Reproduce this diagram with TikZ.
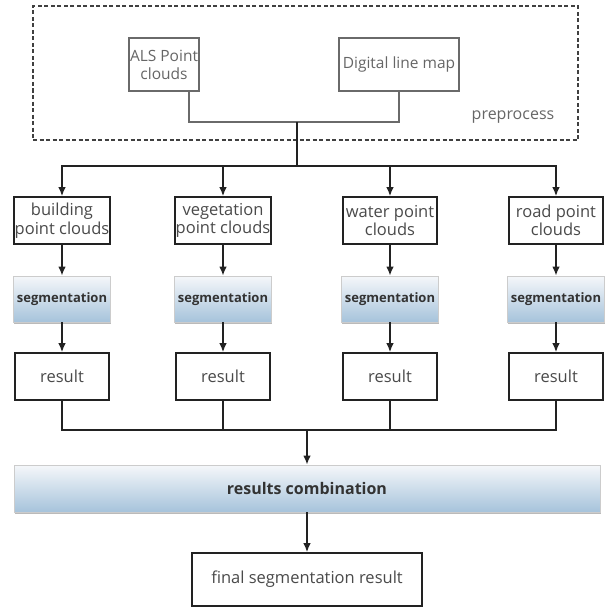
\documentclass[tikz,border=0pt]{standalone}
\usepackage{fontspec}
\setmainfont{Open Sans}
\usetikzlibrary{arrows.meta,shadows}

\definecolor{boxline}{HTML}{222222}
\definecolor{greyline}{HTML}{6A6A6A}
\definecolor{textgrey}{HTML}{4A4A4A}
\definecolor{segtop}{HTML}{F5F7FA}
\definecolor{segbottom}{HTML}{A6C3DB}

\tikzset{
  stepnode/.style = {shape=rectangle, draw=boxline, line width=1.6pt,
                     align=center, fill=white, text=textgrey,
                     inner sep=1pt, font=\fontsize{16.5}{18.5}\selectfont},
  input/.style    = {stepnode, draw=greyline, line width=1.4pt,
                     text=black!60, font=\fontsize{15.5}{18}\selectfont},
  data/.style     = {stepnode, minimum width=94pt, minimum height=47pt},
  result/.style   = {data},
  process/.style  = {shape=rectangle, draw=black!20, line width=0.8pt,
                     top color=segtop, bottom color=segbottom,
                     text=black!80, align=center,
                     font=\bfseries\fontsize{13}{15}\selectfont,
                     drop shadow={shadow xshift=0.8pt, shadow yshift=-1.6pt,
                                  fill=black!45, opacity=0.6}},
  segbox/.style   = {process, minimum width=92pt, minimum height=46pt},
  group/.style    = {shape=rectangle, draw=black!75, dashed,
                     line width=1.3pt, dash pattern=on 4pt off 2.5pt},
  line/.style     = {draw=boxline, line width=1.5pt},
  arrow/.style    = {line, -{Latex[length=9pt,width=7.5pt]}},
  greylink/.style = {draw=greyline, line width=1.3pt}
}

\begin{document}
\begin{tikzpicture}[x=1pt, y=-1pt]
\useasboundingbox (0,0) rectangle (606,608);

% preprocess group
\node[group, minimum width=545pt, minimum height=134pt] (pre) at (305.5,73) {};
\node[text=black!60, font=\fontsize{16}{18}\selectfont] (prelabel) at (513,117) {preprocess};
\node[input, minimum width=70pt, minimum height=53pt] (als) at (164,64.5) {ALS Point\\clouds};
\node[input, minimum width=120pt, minimum height=53pt] (dlm) at (399,64.5) {Digital line map};
\coordinate (merge) at (297,122);
\coordinate (split) at (297,166);
\draw[greylink] ([xshift=25pt]als.south) |- (merge) -| (dlm.south);
\draw[line] (merge) -- (split);

% point clouds
\node[data] (building) at (62,220.5)    {building\\point clouds};
\node[data] (vegetation) at (223,220.5) {vegetation\\point clouds};
\node[data] (water) at (390,220.5)      {water point\\clouds};
\node[data] (road) at (556,220.5)       {road point\\clouds};
\draw[arrow] (split) -| (building);
\draw[arrow] (split) -| (vegetation);
\draw[arrow] (split) -| (water);
\draw[arrow] (split) -| (road);

% segmentation
\node[segbox] (segbuilding) at (62,299)    {segmentation};
\node[segbox] (segvegetation) at (223,299) {segmentation};
\node[segbox] (segwater) at (390,299)      {segmentation};
\node[segbox] (segroad) at (556,299)       {segmentation};
\draw[arrow] (building) -- (segbuilding);
\draw[arrow] (vegetation) -- (segvegetation);
\draw[arrow] (water) -- (segwater);
\draw[arrow] (road) -- (segroad);

% results
\node[result] (resbuilding) at (62,376.5)    {result};
\node[result] (resvegetation) at (223,376.5) {result};
\node[result] (reswater) at (390,376.5)      {result};
\node[result] (resroad) at (556,376.5)       {result};
\draw[arrow] (segbuilding) -- (resbuilding);
\draw[arrow] (segvegetation) -- (resvegetation);
\draw[arrow] (segwater) -- (reswater);
\draw[arrow] (segroad) -- (resroad);

% combination
\coordinate (collect) at (307,430);
\draw[line] (resbuilding) |- (collect);
\draw[line] (resvegetation) |- (collect);
\draw[line] (reswater) |- (collect);
\draw[line] (resroad) |- (collect);
\node[process, minimum width=586pt, minimum height=47pt,
      font=\bfseries\fontsize{16}{18}\selectfont] (combine) at (307,488.5) {results combination};
\node[stepnode, minimum width=230pt, minimum height=53pt] (final) at (307,579.5) {final segmentation result};
\draw[arrow] (collect) -- (combine);
\draw[arrow] (combine) -- (final);
\end{tikzpicture}
\end{document}
